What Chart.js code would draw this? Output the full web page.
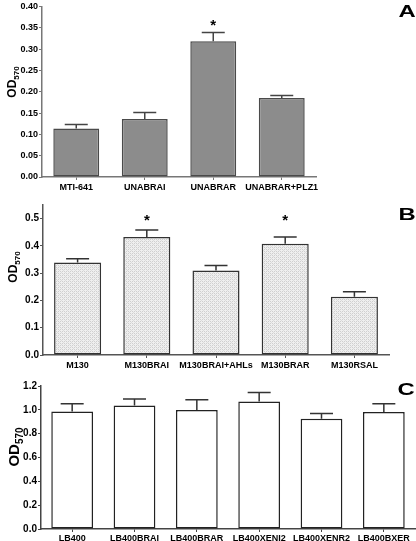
<!DOCTYPE html>
<html><head><meta charset="utf-8">
<script src="https://cdn.jsdelivr.net/npm/chart.js@4.4.1/dist/chart.umd.min.js"></script>
<style>
html,body{margin:0;padding:0;background:#fff;width:416px;height:541px;overflow:hidden;}
canvas{position:absolute;left:0;}
</style></head><body>
<canvas id="cA" width="416" height="195" style="top:0px"></canvas>
<canvas id="cB" width="416" height="175" style="top:195px"></canvas>
<canvas id="cC" width="416" height="171" style="top:370px"></canvas>
<script>
// ---- data ----
const catsA = ['MTI-641','UNABRAI','UNABRAR','UNABRAR+PLZ1'];
const valsA = [0.114, 0.136, 0.318, 0.185];
const errA  = [0.009, 0.015, 0.021, 0.006];
const starA = [null, null, 0.363, null];
const ticksA = [0,0.05,0.10,0.15,0.20,0.25,0.30,0.35,0.40];

const catsB = ['M130','M130BRAI','M130BRAI+AHLs','M130BRAR','M130RSAL'];
const valsB = [0.339, 0.433, 0.310, 0.408, 0.214];
const errB  = [0.014, 0.025, 0.018, 0.025, 0.018];
const starB = [null, 0.505, null, 0.505, null];
const ticksB = [0,0.1,0.2,0.3,0.4,0.5];

const catsC = ['LB400','LB400BRAI','LB400BRAR','LB400XENI2','LB400XENR2','LB400BXER'];
const valsC = [0.986, 1.037, 0.998, 1.070, 0.925, 0.981];
const errC  = [0.065, 0.054, 0.087, 0.076, 0.045, 0.070];
const ticksC = [0,0.2,0.4,0.6,0.8,1.0,1.2];

const FONT = "'Liberation Sans',Arial,sans-serif";

function makePattern(){
  const p = document.createElement('canvas'); p.width=4; p.height=4;
  const g = p.getContext('2d');
  g.fillStyle='#efefef'; g.fillRect(0,0,4,4);
  g.fillStyle='#cfcfcf';
  g.fillRect(0,0,1,1); g.fillRect(2,2,1,1); g.fillRect(2,0,1,1); g.fillRect(0,2,1,1);
  g.fillStyle='#dcdcdc';
  g.fillRect(1,1,1,1); g.fillRect(3,3,1,1);
  return g.createPattern(p,'repeat');
}

const extras = {
  id:'extras',
  afterDatasetsDraw(chart, args, o){
    const ctx = chart.ctx, ys = chart.scales.y;
    const meta = chart.getDatasetMeta(0);
    const vals = chart.data.datasets[0].data;
    ctx.save();
    meta.data.forEach((el,i)=>{
      const e = o.errors[i];
      const yb = el.y, yt = ys.getPixelForValue(vals[i]+e);
      ctx.strokeStyle = o.errColor; ctx.lineWidth = 1.5;
      ctx.beginPath(); ctx.moveTo(el.x, yb); ctx.lineTo(el.x, yt);
      ctx.moveTo(el.x - o.cap/2, yt); ctx.lineTo(el.x + o.cap/2, yt); ctx.stroke();
      if (o.stars && o.stars[i] != null){
        ctx.fillStyle='#000'; ctx.font = "bold 15px "+FONT;
        ctx.textAlign='center'; ctx.textBaseline='middle';
        ctx.fillText('*', el.x, ys.getPixelForValue(o.stars[i]) + 4);
      }
    });
    // y title OD570
    ctx.translate(o.titleX, o.titleY); ctx.rotate(-Math.PI/2);
    ctx.fillStyle='#000'; ctx.textBaseline='alphabetic'; ctx.textAlign='left';
    const big = 'bold '+o.titleSize+'px '+FONT;
    const small = 'bold '+Math.round(o.titleSize*0.68)+'px '+FONT;
    ctx.font = big; const w1 = ctx.measureText('OD').width;
    ctx.font = small; const w2 = ctx.measureText('570').width;
    const x0 = -(w1+w2)/2;
    ctx.font = big; ctx.fillText('OD', x0, 0);
    ctx.font = small; ctx.fillText('570', x0 + w1, o.titleSize*0.28);
    ctx.restore();
    // panel letter
    ctx.save();
    ctx.translate(o.letterX, o.letterY); ctx.scale(1.4,1);
    ctx.fillStyle='#000'; ctx.font="bold 17px "+FONT;
    ctx.textAlign='center'; ctx.textBaseline='alphabetic';
    ctx.fillText(o.letter, 0, 0);
    ctx.restore();
  }
};

function make(id, cats, vals, opt){
  return new Chart(document.getElementById(id), {
    type:'bar',
    data:{labels:cats, datasets:[{data:vals, backgroundColor:opt.fill, borderColor:opt.border,
      borderWidth:1.5, borderSkipped:false, barPercentage:opt.barPct, categoryPercentage:1}]},
    options:{
      responsive:false, animation:false, devicePixelRatio:1,
      layout:{padding:opt.pad},
      plugins:{legend:{display:false}, tooltip:{enabled:false}, extras:opt.extras},
      scales:{
        x:{ grid:{display:true, drawOnChartArea:false, offset:false, tickLength:3, color:opt.axisColor},
            border:{display:true, color:opt.axisColor, width:1.5},
            ticks:{color:'#000', padding:opt.xPad, font:{family:FONT, weight:'bold', size:9}, maxRotation:0, autoSkip:false},
            afterFit(s){ s.height = opt.xH; } },
        y:{ min:0, max:opt.max,
            grid:{display:true, drawOnChartArea:false, tickLength:3, color:opt.axisColor},
            border:{display:true, color:opt.axisColor, width:1.5},
            afterBuildTicks(s){ s.ticks = opt.ticks.map(v=>({value:v})); },
            ticks:{color:'#000', padding:1, font:{family:FONT, weight:'bold', size:opt.ySize},
              callback:(v)=>Number(v).toFixed(opt.dec)},
            afterFit(s){ s.width = opt.yW; } }
      }
    },
    plugins:[extras]
  });
}

make('cA', catsA, valsA, {fill:'#8c8c8c', border:'#4a4a4a', barPct:0.67, axisColor:'#777',
  pad:{top:5,right:100,left:0,bottom:0}, xH:18, xPad:2, yW:42, max:0.40, ticks:ticksA, dec:2, ySize:9,
  extras:{errors:errA, stars:starA, cap:23, errColor:'#444', titleX:16, titleY:82, titleSize:12, letter:'A', letterX:407, letterY:17}});

make('cB', catsB, valsB, {fill:makePattern(), border:'#333', barPct:0.68, axisColor:'#555',
  pad:{top:10,right:27,left:0,bottom:0}, xH:15, xPad:2, yW:43, max:0.55, ticks:ticksB, dec:1, ySize:10,
  extras:{errors:errB, stars:starB, cap:23, errColor:'#333', titleX:17, titleY:72, titleSize:12, letter:'B', letterX:407, letterY:25}});

make('cC', catsC, valsC, {fill:'#ffffff', border:'#222', barPct:0.67, axisColor:'#444',
  pad:{top:16,right:1,left:0,bottom:0}, xH:12, xPad:1, yW:41, max:1.2, ticks:ticksC, dec:1, ySize:10,
  extras:{errors:errC, stars:null, cap:23, errColor:'#333', titleX:19, titleY:77, titleSize:15, letter:'C', letterX:406, letterY:25}});
</script>
</body></html>
